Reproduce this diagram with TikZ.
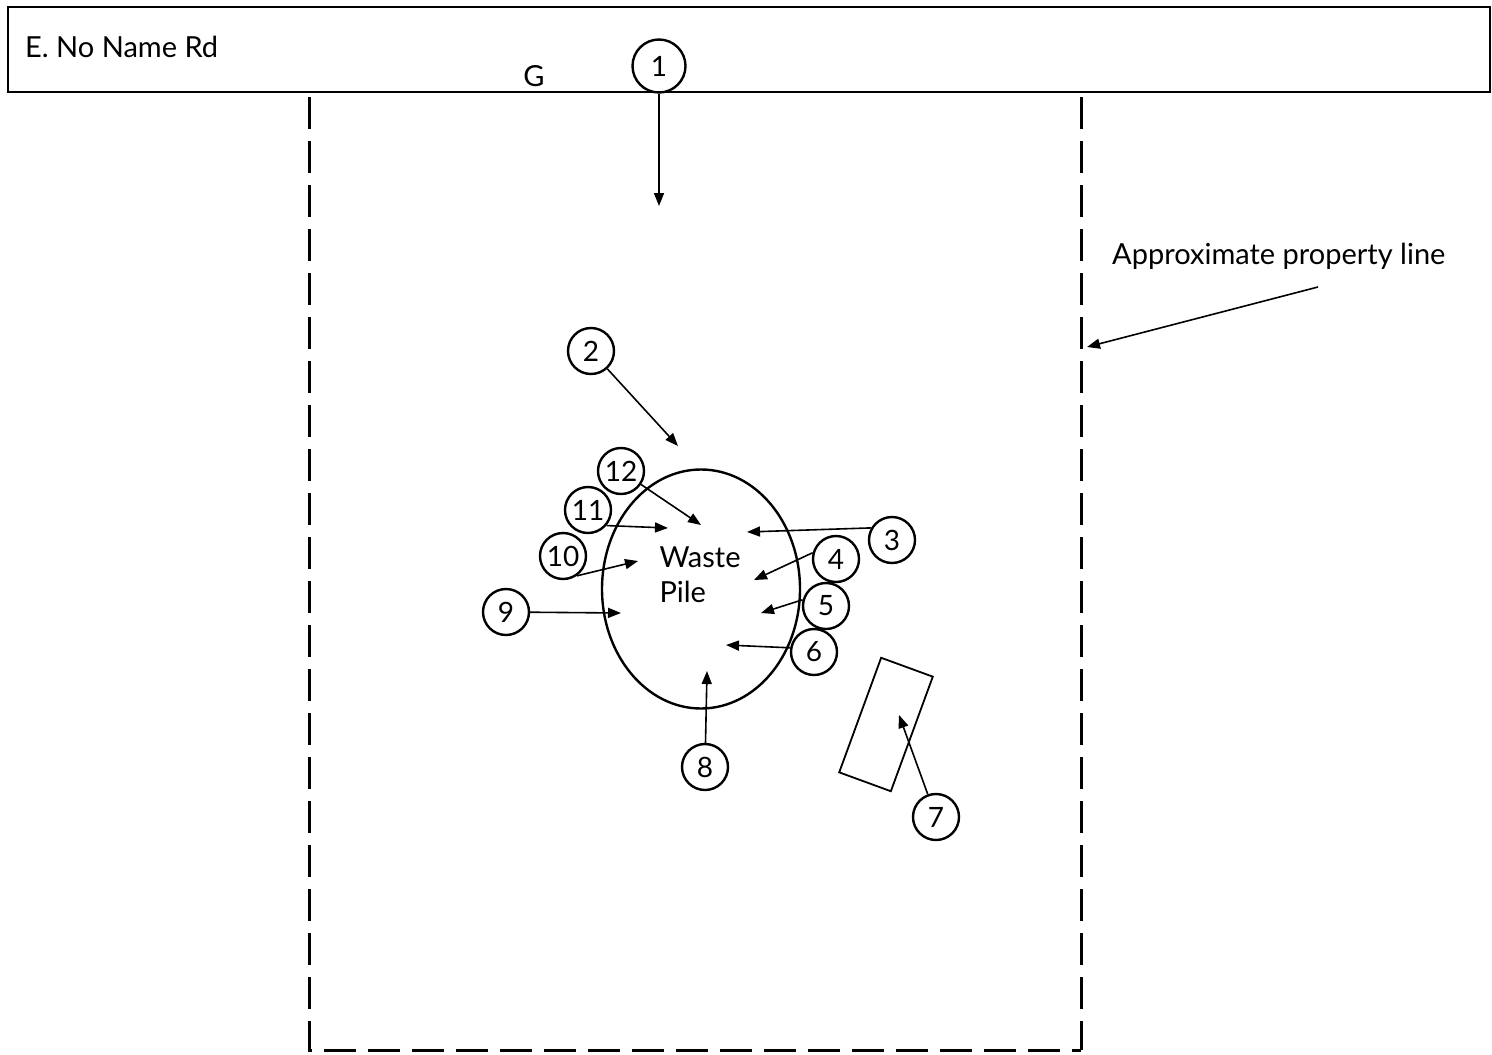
\documentclass[tikz,border=0pt]{standalone}
\usepackage{fontspec}
\setmainfont{Lato}
\usetikzlibrary{arrows.meta,shapes.geometric}
\begin{document}
\begin{tikzpicture}[x=1pt,y=-1pt,
  num/.style={draw,circle,line width=2.4pt,minimum size=46pt,inner sep=0pt,font=\fontsize{28}{32}\selectfont},
  arr/.style={line width=1.6pt,-{Triangle[length=13pt,width=10pt]}},
  lbl/.style={font=\fontsize{29}{34}\selectfont,inner sep=0pt},
  prop/.style={line width=3pt,dash pattern=on 32pt off 12pt}]
\useasboundingbox (0,0) rectangle (1492,1055);
% road
\node[draw,line width=1.5pt,minimum width=1482pt,minimum height=85pt,inner sep=0pt,anchor=north west] (road) at (7,6) {};
\node[lbl,anchor=west] (rdname) at (25,47) {E. No Name Rd};
\node[lbl] (g) at (534,76) {G};
% property line
\coordinate (pl1) at (309,97);
\coordinate (pl2) at (309,1050);
\coordinate (pl3) at (1081,1050);
\coordinate (pl4) at (1081,97);
\draw[prop] (pl1) -- (pl2) -- (pl3);
\draw[prop] (pl4) -- (pl3);
\node[lbl,anchor=west] (proptext) at (1112,256) {Approximate property line};
\coordinate (pa) at (1318,287);
\coordinate (pb) at (1087,347);
\draw[arr] (pa) -- (pb);
% waste pile
\node[draw,ellipse,line width=2.4pt,minimum width=198pt,minimum height=239pt] (pile) at (701,589) {};
\node[lbl,align=left,font=\fontsize{29}{35}\selectfont] (piletext) at (700,575) {Waste\\Pile};
% shed
\node[draw,line width=1.8pt,minimum width=55pt,minimum height=122pt,rotate=-20.1] (shed) at (886,724.5) {};
% numbered circles
\node[num,minimum width=53pt,minimum height=50pt] (c1) at (659,66) {1};
\node[num] (c2) at (591,351) {2};
\node[num] (c3) at (892,540) {3};
\node[num] (c4) at (836,559) {4};
\node[num] (c5) at (826,606) {5};
\node[num] (c6) at (814,652) {6};
\node[num] (c7) at (936,817) {7};
\node[num] (c8) at (705,767) {8};
\node[num] (c9) at (506,612) {9};
\node[num] (c10) at (563,556) {10};
\node[num] (c11) at (588,510) {11};
\node[num] (c12) at (621,471) {12};
% arrow tips
\coordinate (t1) at (659,206);
\coordinate (t2) at (678,446);
\coordinate (t3) at (747,532);
\coordinate (t4) at (754,580);
\coordinate (t5) at (761,613);
\coordinate (t6) at (726,645);
\coordinate (t7) at (899,715);
\coordinate (t8) at (707,671);
\coordinate (t9) at (621,613);
\coordinate (t10) at (638,561);
\coordinate (t11) at (668,528);
\coordinate (t12) at (701,525);
\draw[arr] (c1) -- (t1);
\draw[arr] (c2) -- (t2);
\draw[arr] (c3.150) -- (t3);
\draw[arr] (c4.165) -- (t4);
\draw[arr] (c5.165) -- (t5);
\draw[arr] (c6.170) -- (t6);
\draw[arr] (c7) -- (t7);
\draw[arr] (c8) -- (t8);
\draw[arr] (c9) -- (t9);
\draw[arr] (c10.-55) -- (t10);
\draw[arr] (c11.-40) -- (t11);
\draw[arr] (c12) -- (t12);
\end{tikzpicture}
\end{document}
